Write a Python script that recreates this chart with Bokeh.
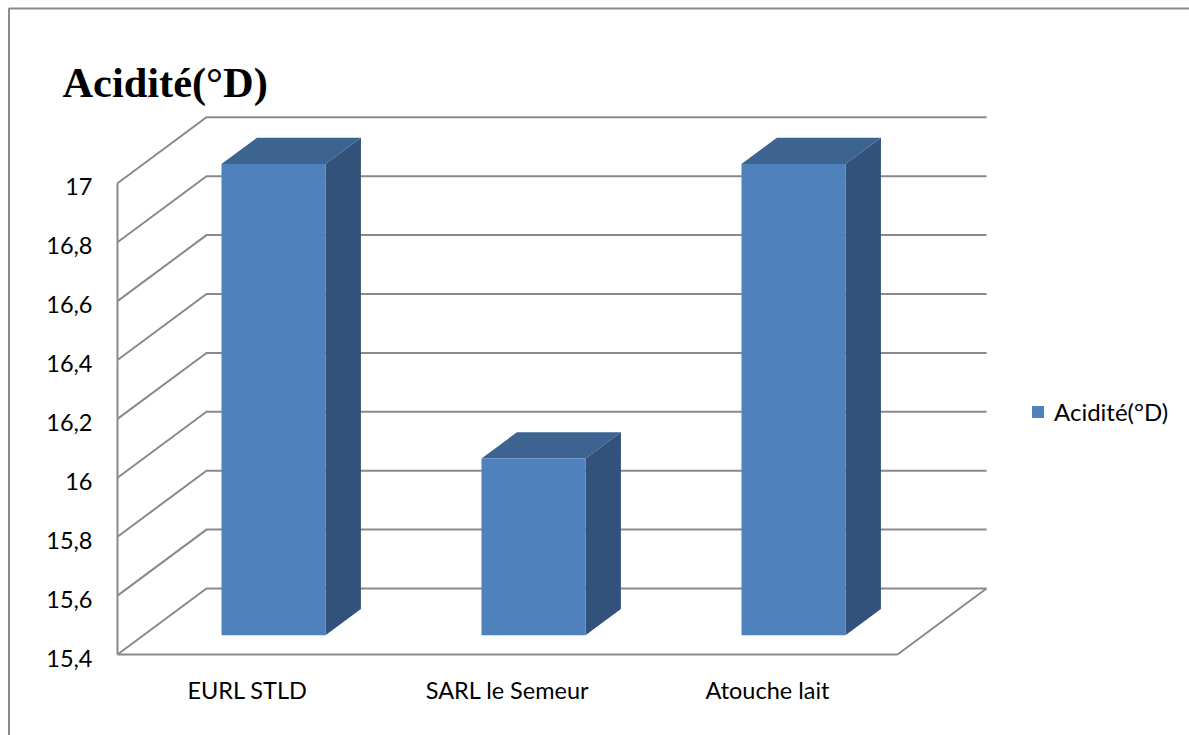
from bokeh.embed import file_html
from bokeh.models import FixedTicker, Label, Legend, LegendItem, LinearAxis, Range1d
from bokeh.plotting import figure
from bokeh.resources import INLINE

# Chart values
categories = ["EURL STLD", "SARL le Semeur", "Atouche lait"]
acidity = [17, 16, 17]
y_ticks = [15.4, 15.6, 15.8, 16.0, 16.2, 16.4, 16.6, 16.8, 17.0]
y_labels = ["15,4", "15,6", "15,8", "16", "16,2", "16,4", "16,6", "16,8", "17"]
series_name = "Acidité(°D)"
title_text = "Acidité(°D)"

W, H = 1189, 735
PX_PER_CATEGORY = 260
PX_PER_UNIT = 294.5
FIRST_CENTER_PX = 247
BASE_PX = 654
LABEL_DROP_PX = 3.5

# Oblique projection of the 3D box: offset for a full step into the depth
DEPTH_X = 89 / PX_PER_CATEGORY
DEPTH_Y = 66 / PX_PER_UNIT
BAR_FRONT = 0.292   # where the bar's front face sits along the depth
BAR_BACK = 0.69     # where its back face sits
BAR_WIDTH = 0.4

GRID = "#8a8a8a"
FRONT = "#4f81bd"
TOP = "#3d6491"
SIDE = "#32527b"
FONT = "Lato"

baseline = y_ticks[0]
x_left = -0.5
x_right = len(categories) - 0.5

y_start = baseline - (H - BASE_PX) / PX_PER_UNIT
y_end = baseline + BASE_PX / PX_PER_UNIT
label_shift = LABEL_DROP_PX / PX_PER_UNIT

p = figure(
    width=W, height=H, output_backend="svg", toolbar_location=None,
    x_axis_type=None, y_axis_type=None, min_border=0,
    x_range=Range1d(-FIRST_CENTER_PX / PX_PER_CATEGORY, (W - FIRST_CENTER_PX) / PX_PER_CATEGORY),
    y_range=Range1d(y_start, y_end),
)
# Tick labels sit slightly below their gridline, so they get a range of their own
p.extra_y_ranges = {"tick_labels": Range1d(y_start + label_shift, y_end + label_shift)}
p.outline_line_color = None
p.grid.visible = False


def project(x, y, depth):
    """Move a point of the front plane along the depth axis."""
    return x + DEPTH_X * depth, y + DEPTH_Y * depth


# Outer chart frame, open to the right and bottom of the page
frame_x = x_left + (8.5 - 117) / PX_PER_CATEGORY
frame_y = baseline + (654 - 8) / PX_PER_UNIT
p.line([frame_x, frame_x, p.x_range.end], [p.y_range.start, frame_y, frame_y],
       line_color=GRID, line_width=2)

# Wall gridlines, with the diagonal running back from the front plane
for tick in y_ticks:
    bx0, by0 = project(x_left, tick, 1)
    bx1, by1 = project(x_right, tick, 1)
    p.line([x_left, bx0, bx1], [tick, by0, by1], line_color=GRID, line_width=2,
           line_join="miter")

# Front-left edge and right edge of the floor
bx1, by1 = project(x_right, baseline, 1)
p.line([x_right, bx1], [baseline, by1], line_color=GRID, line_width=2)
p.line([x_left, x_left], [y_ticks[0], y_ticks[-1]], line_color=GRID, line_width=2)

# Bars: side and top faces as parallelograms, then the front face
side_xs, side_ys, top_xs, top_ys, lefts, rights, tops, bottoms = [], [], [], [], [], [], [], []
for i, val in enumerate(acidity):
    x0 = i - BAR_WIDTH / 2
    x1 = i + BAR_WIDTH / 2
    fx0, fb = project(x0, baseline, BAR_FRONT)
    fx1, ft = project(x1, val, BAR_FRONT)
    bx0, _ = project(x0, baseline, BAR_BACK)
    bx1, bt = project(x1, val, BAR_BACK)
    _, bb = project(x1, baseline, BAR_BACK)
    side_xs.append([fx1, bx1, bx1, fx1])
    side_ys.append([fb, bb, bt, ft])
    top_xs.append([fx0, fx1, bx1, bx0])
    top_ys.append([ft, ft, bt, bt])
    lefts.append(fx0)
    rights.append(fx1)
    tops.append(ft)
    bottoms.append(fb)

p.patches(side_xs, side_ys, fill_color=SIDE, line_color=None)
p.patches(top_xs, top_ys, fill_color=TOP, line_color=None)
front = p.quad(left=lefts, right=rights, top=tops, bottom=bottoms, fill_color=FRONT, line_color=None)

# Value axis labels
y_axis = LinearAxis(
    fixed_location=x_left, y_range_name="tick_labels", ticker=FixedTicker(ticks=y_ticks),
    major_label_overrides=dict(zip(y_ticks, y_labels)),
    axis_line_color=None,
    major_tick_line_color=None, minor_tick_line_color=None,
    major_tick_out=0, major_tick_in=0, minor_tick_out=0, minor_tick_in=0,
    major_label_standoff=25,
    major_label_text_font=FONT, major_label_text_font_size="23.5px",
    major_label_text_color="#000000",
)
p.add_layout(y_axis, "left")

# Category axis along the front of the floor
x_axis = LinearAxis(
    fixed_location=baseline, ticker=FixedTicker(ticks=list(range(len(categories)))),
    major_label_overrides={i: c for i, c in enumerate(categories)},
    bounds=(x_left, x_right),
    axis_line_color=GRID, axis_line_width=2,
    major_tick_line_color=None, minor_tick_line_color=None,
    major_tick_out=0, major_tick_in=0, minor_tick_out=0, minor_tick_in=0,
    major_label_standoff=21,
    major_label_text_font=FONT, major_label_text_font_size="23.5px",
    major_label_text_color="#000000",
)
p.add_layout(x_axis, "below")

# Title set as a serif bold heading in the top-left corner
p.add_layout(Label(
    x=62, y=H - 82, x_units="screen", y_units="screen", text=title_text,
    text_font="Liberation Serif", text_font_style="bold", text_font_size="42.4px",
    text_color="#000000", text_baseline="alphabetic",
))

legend = Legend(
    items=[LegendItem(label=series_name, renderers=[front])],
    location=(1022 + 8, H - 426), orientation="vertical",
    border_line_color=None, background_fill_alpha=0,
    glyph_width=15, glyph_height=15, label_standoff=9,
    label_text_font=FONT, label_text_font_size="24px", label_text_color="#000000",
    margin=0, padding=10, spacing=0,
)
p.add_layout(legend, "center")

open("out.html", "w").write(file_html(p, INLINE))
